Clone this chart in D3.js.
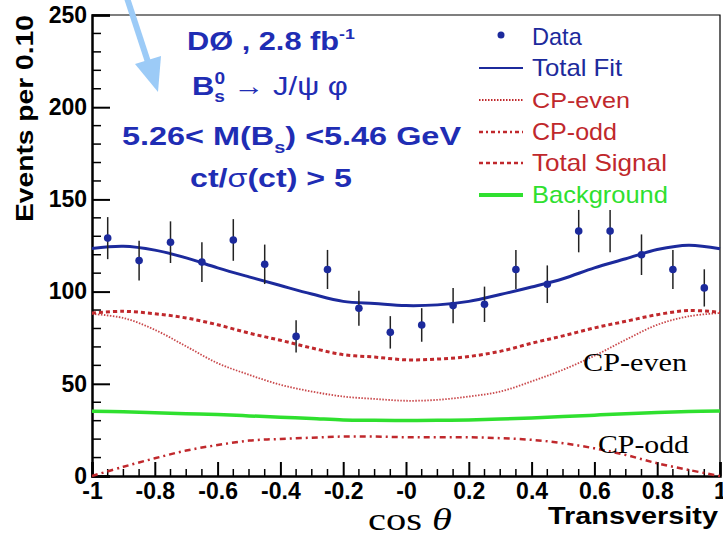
<!DOCTYPE html>
<html>
<head>
<meta charset="utf-8">
<script src="https://cdn.jsdelivr.net/npm/d3@7"></script>
<style>
  body { margin: 0; background: #fff; }
  svg { display: block; font-family: "Liberation Sans", Arial, sans-serif; }
  .axis text { font-weight: bold; font-size: 23px; fill: #000; }
  .axis path, .axis line { stroke: #000; }
</style>
</head>
<body>
<svg id="chart" width="723" height="538"></svg>
<script>

// Data
var binCenters = [-0.95, -0.85, -0.75, -0.65, -0.55, -0.45, -0.35, -0.25, -0.15, -0.05,
                  0.05, 0.15, 0.25, 0.35, 0.45, 0.55, 0.65, 0.75, 0.85, 0.95];
var dataCounts = [129, 116.8, 126.8, 116, 128, 114.8, 75.7, 112, 91, 77.9,
                  81.9, 92.4, 93.1, 112, 104, 132.8, 132.8, 120, 112, 102];
var dataErrors = [11.4, 10.8, 11.3, 10.8, 11.3, 10.7, 8.7, 10.6, 9.5, 8.8,
                  9.1, 9.6, 9.6, 10.6, 10.2, 11.5, 11.5, 11, 10.6, 10.1];

var cosTheta = [-1, -0.9, -0.8, -0.7, -0.6, -0.5, -0.4, -0.3, -0.2, -0.1, 0,
                0.1, 0.2, 0.3, 0.4, 0.5, 0.6, 0.7, 0.8, 0.9, 1];
var totalFit = [123.4, 124.6, 122.5, 118.3, 112.9, 108, 103.3, 98.7, 94.7, 93.5, 92.4,
                92.8, 94.7, 98.4, 102.5, 107, 112.9, 117.8, 122.8, 125.2, 123.2];
var totalSignal = [88.4, 89.3, 88, 85.7, 82, 77.5, 73.6, 69.4, 65.8, 64.5, 63,
                   63.4, 64.8, 67.6, 72, 76, 80.3, 83.9, 87.5, 89.7, 88.8];
var cpEven = [87.9, 85.7, 79.3, 70.3, 61.2, 54.9, 49.5, 45.8, 43.1, 41.8, 40.8,
              41.3, 43.1, 45.8, 51.3, 57.6, 65.2, 73.9, 82, 86.6, 88.4];
var cpOdd = [0, 5, 9.6, 13.8, 16.8, 19.2, 20.1, 20.8, 21.4, 21.4, 21,
             21, 21, 20.5, 19.6, 17.8, 15, 11.4, 6.9, 3.3, 0];
var background = [35.1, 34.8, 34.3, 33.8, 33.3, 32.6, 31.9, 31.2, 30.4, 30.2, 30.1,
                  30.2, 30.4, 30.9, 31.5, 32.2, 33, 33.8, 34.5, 35, 35.3];

var xTicks = [-1, -0.8, -0.6, -0.4, -0.2, 0, 0.2, 0.4, 0.6, 0.8, 1];
var xTickLabels = ["-1", "-0.8", "-0.6", "-0.4", "-0.2", "-0", "0.2", "0.4", "0.6", "0.8", "1"];
var yTicks = [0, 50, 100, 150, 200, 250];

var legendLabels = ["Data", "Total Fit", "CP-even", "CP-odd", "Total Signal", "Background"];

var blue = "#1c2a9c", red = "#c0282c", green = "#2fe02f", titleBlue = "#1f2db4";

var svg = d3.select("#chart");
var plot = {left: 92, right: 720, top: 15, bottom: 476};

var xScale = d3.scaleLinear().domain([-1, 1]).range([plot.left, plot.right]);
var yScale = d3.scaleLinear().domain([0, 250]).range([plot.bottom, plot.top]);

// stretch a text horizontally so it spans the given width (the original is condensed/expanded)
function fitWidth(textSel, x, y, w) {
  var bb = textSel.node().getBBox();
  textSel.attr("transform", "translate(" + x + "," + y + ") scale(" + (w / bb.width) + ",1) translate(" + (-bb.x) + ",0)");
}

// minor ticks
var xMinor = d3.range(-1, 1.0001, 0.05).filter(function(v) { return Math.abs(Math.round(v * 5) - v * 5) > 0.01; });
var yMinor = d3.range(0, 251, 10).filter(function(v) { return v % 50 !== 0; });

svg.append("g").selectAll("line.xm").data(xMinor).enter()
  .append("line")
  .attr("x1", function(d) { return xScale(d); }).attr("x2", function(d) { return xScale(d); })
  .attr("y1", plot.bottom).attr("y2", plot.bottom - 7)
  .attr("stroke", "#000").attr("stroke-width", 1.5);

svg.append("g").selectAll("line.ym").data(yMinor).enter()
  .append("line")
  .attr("y1", function(d) { return yScale(d); }).attr("y2", function(d) { return yScale(d); })
  .attr("x1", plot.left).attr("x2", plot.left + 9)
  .attr("stroke", "#000").attr("stroke-width", 1.5);

// frame (top / right thin)
svg.append("path")
  .attr("d", "M" + plot.left + "," + plot.top + "H" + plot.right + "V" + plot.bottom)
  .attr("fill", "none").attr("stroke", "#000").attr("stroke-width", 1.2);

var xAxis = d3.axisBottom(xScale).tickValues(xTicks).tickSize(-14).tickPadding(6)
  .tickFormat(function(d, i) { return xTickLabels[i]; });
var gx = svg.append("g").attr("class", "axis")
  .attr("transform", "translate(0," + plot.bottom + ")")
  .call(xAxis);
gx.select(".domain").attr("stroke-width", 2.5);
gx.selectAll(".tick line").attr("stroke-width", 2);
gx.selectAll(".tick text").attr("dy", "0.71em").attr("y", 7);

var yAxis = d3.axisLeft(yScale).tickValues(yTicks).tickSize(-18).tickPadding(6);
var gy = svg.append("g").attr("class", "axis")
  .attr("transform", "translate(" + plot.left + ",0)")
  .call(yAxis);
gy.select(".domain").attr("stroke-width", 2.5);
gy.selectAll(".tick line").attr("stroke-width", 2);
gy.selectAll(".tick text").attr("x", -5);

// curves
var line = d3.line()
  .x(function(d) { return xScale(d[0]); })
  .y(function(d) { return yScale(d[1]); })
  .curve(d3.curveCatmullRom);

function series(vals) { return cosTheta.map(function(c, i) { return [c, vals[i]]; }); }

var g = svg.append("g");
g.append("path").datum(series(background)).attr("d", line)
  .attr("fill", "none").attr("stroke", green).attr("stroke-width", 3.5);
g.append("path").datum(series(cpOdd)).attr("d", line)
  .attr("fill", "none").attr("stroke", red).attr("stroke-width", 2.5)
  .attr("stroke-dasharray", "6,4,2,4");
g.append("path").datum(series(cpEven)).attr("d", line)
  .attr("fill", "none").attr("stroke", red).attr("stroke-width", 1.8)
  .attr("stroke-dasharray", "1.5,1.5").attr("opacity", 0.85);
g.append("path").datum(series(totalSignal)).attr("d", line)
  .attr("fill", "none").attr("stroke", red).attr("stroke-width", 3)
  .attr("stroke-dasharray", "4,3");
g.append("path").datum(series(totalFit)).attr("d", line)
  .attr("fill", "none").attr("stroke", blue).attr("stroke-width", 3);

// data points
var pts = binCenters.map(function(c, i) { return {x: c, y: dataCounts[i], e: dataErrors[i]}; });
g.selectAll(".err").data(pts).enter()
  .append("line").attr("class", "err")
  .attr("x1", function(d) { return xScale(d.x); }).attr("x2", function(d) { return xScale(d.x); })
  .attr("y1", function(d) { return yScale(d.y - d.e); }).attr("y2", function(d) { return yScale(d.y + d.e); })
  .attr("stroke", "#222").attr("stroke-width", 1.5);
g.selectAll(".pt").data(pts).enter()
  .append("circle").attr("class", "pt")
  .attr("cx", function(d) { return xScale(d.x); })
  .attr("cy", function(d) { return yScale(d.y); })
  .attr("r", 3.8).attr("fill", blue);

// labels
svg.append("text")
  .attr("transform", "translate(33,222) rotate(-90)")
  .attr("font-weight", "bold").attr("font-size", 23)
  .attr("textLength", 207).attr("lengthAdjust", "spacingAndGlyphs")
  .text("Events per 0.10");

svg.append("text").attr("x", 548).attr("y", 524)
  .attr("font-weight", "bold").attr("font-size", 23)
  .attr("textLength", 170).attr("lengthAdjust", "spacingAndGlyphs")
  .text("Transversity");

var cos = svg.append("text")
  .attr("font-family", "'Liberation Serif', 'Times New Roman', serif").attr("font-size", 31);
cos.append("tspan").text("cos ");
cos.append("tspan").attr("font-style", "italic").text("θ");
fitWidth(cos, 368, 530, 84);

svg.append("text").attr("x", 583).attr("y", 371)
  .attr("font-family", "'Liberation Serif', 'Times New Roman', serif").attr("font-size", 25)
  .attr("textLength", 104).attr("lengthAdjust", "spacingAndGlyphs")
  .text("CP-even");
svg.append("text").attr("x", 598).attr("y", 453)
  .attr("font-family", "'Liberation Serif', 'Times New Roman', serif").attr("font-size", 25)
  .attr("textLength", 91).attr("lengthAdjust", "spacingAndGlyphs")
  .text("CP-odd");

// title block
var tb = svg.append("g").attr("fill", titleBlue).attr("font-weight", "bold").attr("font-size", 26);
var t1 = tb.append("text");
t1.append("tspan").text("DØ , 2.8 fb");
t1.append("tspan").attr("font-size", 15).attr("dy", -11).text("-1");
fitWidth(t1, 187, 50, 168);

var t2 = tb.append("text");
t2.append("tspan").text("B");
t2.append("tspan").attr("font-size", 16).attr("dy", -11).text("0");
t2.append("tspan").attr("font-size", 16).attr("dx", -9).attr("dy", 18).text("s");
t2.append("tspan").attr("dy", -7).attr("font-weight", "normal").text(" → J/ψ φ");
fitWidth(t2, 192, 95, 156);

var t3 = tb.append("text");
t3.append("tspan").text("5.26< M(B");
t3.append("tspan").attr("font-size", 16).attr("dy", 8).text("s");
t3.append("tspan").attr("dy", -8).text(") <5.46 GeV");
fitWidth(t3, 122, 145, 340);

var t4 = tb.append("text");
t4.append("tspan").text("ct/");
t4.append("tspan").attr("font-weight", "normal").text("σ");
t4.append("tspan").text("(ct) > 5");
fitWidth(t4, 190, 187, 162);

// legend
var legColors = [blue, blue, red, red, red, green];
var legY = [45, 76, 108, 140, 171, 203];
var legW = [50, 91, 98, 85, 135, 136];
var leg = svg.append("g").attr("font-size", 23);
legendLabels.forEach(function(lab, i) {
  var y = legY[i];
  var t = leg.append("text").attr("fill", legColors[i]).text(lab);
  fitWidth(t, 532, y, legW[i]);
  var ly = y - 8;
  if (i === 0) {
    leg.append("circle").attr("cx", 501).attr("cy", ly - 2).attr("r", 3.5).attr("fill", blue);
  } else {
    var l = leg.append("line").attr("x1", 479).attr("x2", 523).attr("y1", ly).attr("y2", ly)
      .attr("stroke", legColors[i]);
    if (i === 1) l.attr("stroke-width", 2);
    if (i === 2) l.attr("stroke-width", 2).attr("stroke-dasharray", "1.5,1.5");
    if (i === 3) l.attr("stroke-width", 2.5).attr("stroke-dasharray", "4,3,2,3");
    if (i === 4) l.attr("stroke-width", 2.5).attr("stroke-dasharray", "4,3");
    if (i === 5) l.attr("stroke-width", 4);
  }
});

// arrow annotation
var arrow = svg.append("g").attr("fill", "#9ccbf7").attr("stroke", "#9ccbf7");
arrow.append("line").attr("x1", 127).attr("y1", -2).attr("x2", 148).attr("y2", 62)
  .attr("stroke-width", 6);
arrow.append("path").attr("d", "M135,64L161,56L158,92Z").attr("stroke", "none");

</script>
</body>
</html>
